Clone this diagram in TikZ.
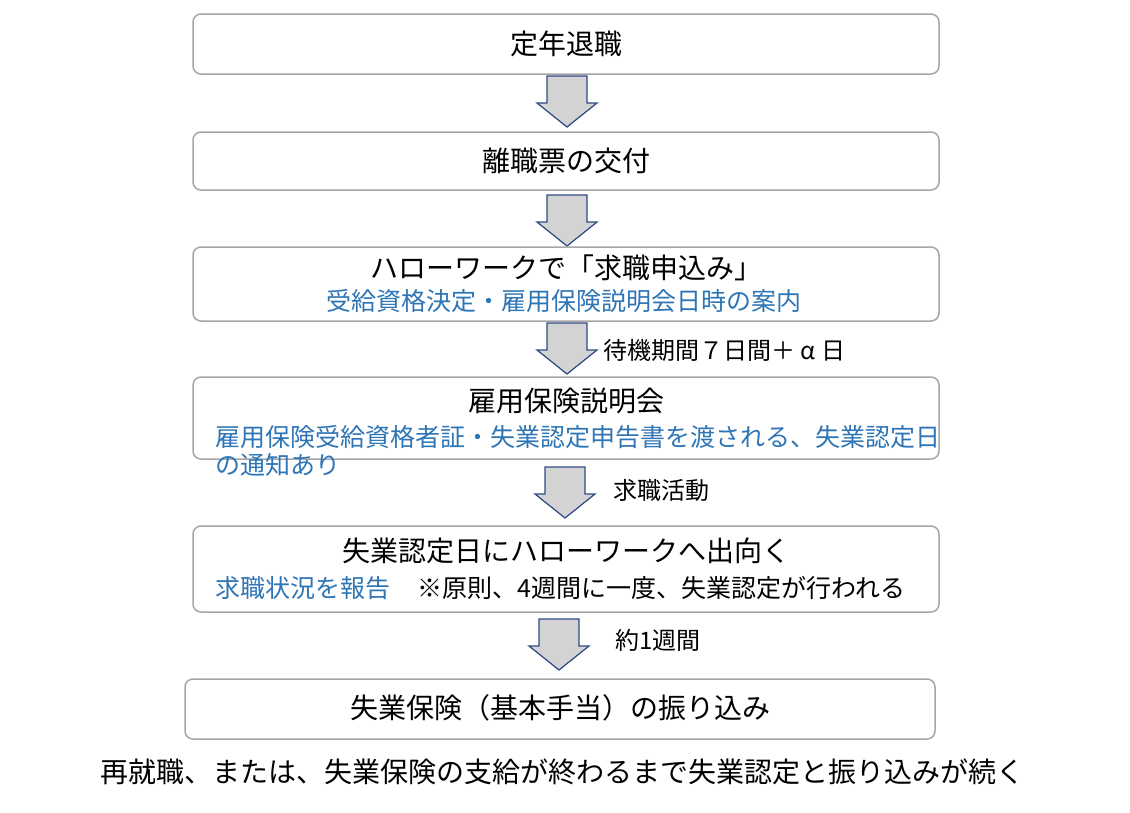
\documentclass[tikz,border=0pt]{standalone}
\usepackage{fontspec}
\setmainfont{Noto Sans CJK JP}
\usetikzlibrary{positioning}
\definecolor{boxgray}{HTML}{A6A6A6}
\definecolor{txtblue}{HTML}{2E75B6}
\definecolor{arrowfill}{HTML}{D3D3D3}
\definecolor{arrowline}{HTML}{2F4A86}
\tikzset{
  stepbox/.style={draw=boxgray,line width=1.5pt,rounded corners=8pt},
  maintext/.style={font=\fontsize{28}{32}\selectfont},
  subtext/.style={font=\fontsize{25}{29}\selectfont,text=txtblue},
  labeltext/.style={font=\fontsize{24}{28}\selectfont,anchor=west},
  flowarrow/.style={fill=arrowfill,draw=arrowline,line width=1.2pt,line join=miter}
}
% down arrow: centre x, top y
\newcommand{\flowdown}[2]{%
  \draw[flowarrow] (#1-20,#2) -- (#1+20,#2) -- (#1+20,#2+27) -- (#1+30,#2+27)
    -- (#1,#2+51) -- (#1-30,#2+27) -- (#1-20,#2+27) -- cycle;}
\begin{document}
\begin{tikzpicture}[x=1pt,y=-1pt]
  \useasboundingbox (0,0) rectangle (1130,812);

  \draw[stepbox] (193,14) rectangle (939,74);
  \node[maintext] (retire) at (566,44) {定年退職};
  \flowdown{567}{76}

  \draw[stepbox] (193,132) rectangle (939,190);
  \node[maintext] (slip) at (566,161) {離職票の交付};
  \flowdown{567}{195}

  \draw[stepbox] (193,247) rectangle (939,321);
  \node[maintext] (apply) at (566,268) {ハローワークで「求職申込み」};
  \node[subtext] (applysub) at (564,301) {受給資格決定・雇用保険説明会日時の案内};
  \flowdown{567}{323}
  \node[labeltext] (wait) at (600,350) {待機期間７日間＋ α 日};

  \draw[stepbox] (193,377) rectangle (939,459);
  \node[maintext] (briefing) at (566,401) {雇用保険説明会};
  \node[subtext,anchor=west] (brsub1) at (212,437) {雇用保険受給資格者証・失業認定申告書を渡される、失業認定日};
  \node[subtext,anchor=west] (brsub2) at (212,465) {の通知あり};
  \flowdown{565}{467}
  \node[labeltext] (search) at (610,490) {求職活動};

  \draw[stepbox] (193,526) rectangle (939,612);
  \node[maintext] (visit) at (566,551) {失業認定日にハローワークへ出向く};
  \node[subtext,anchor=west] (report) at (212,588) {求職状況を報告};
  \node[labeltext,font=\fontsize{25}{29}\selectfont] (rule) at (414,588) {※原則、4週間に一度、失業認定が行われる};
  \flowdown{559}{619}
  \node[labeltext] (week) at (612,640) {約1週間};

  \draw[stepbox] (185,679) rectangle (935,739);
  \node[maintext] (pay) at (560,708) {失業保険（基本手当）の振り込み};

  \node[maintext] (repeat) at (562,772) {再就職、または、失業保険の支給が終わるまで失業認定と振り込みが続く};
\end{tikzpicture}
\end{document}
